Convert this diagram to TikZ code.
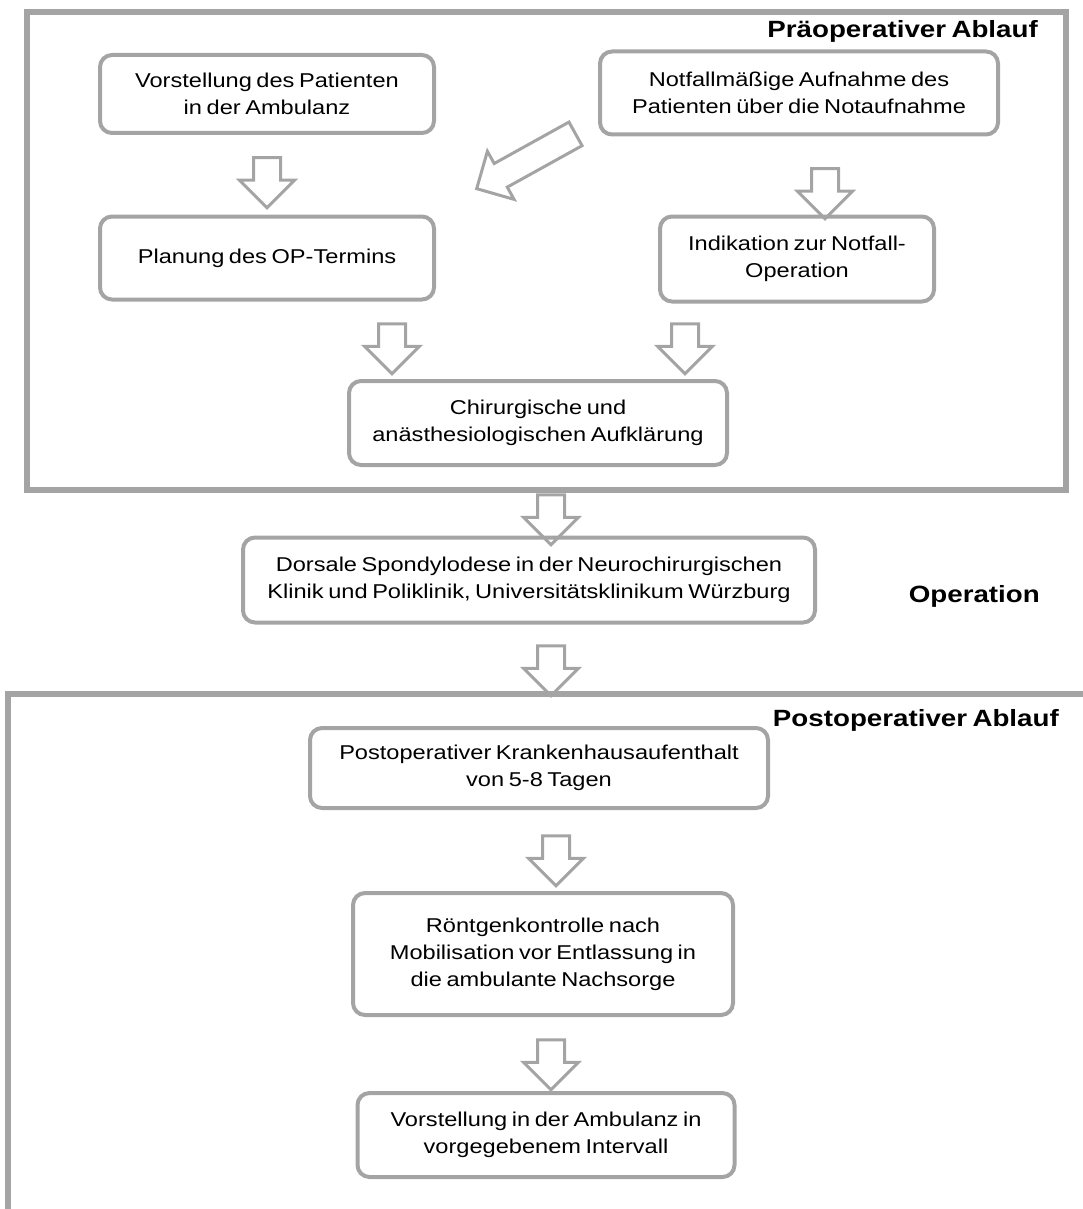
\documentclass[tikz,border=0pt]{standalone}
\usepackage{fontspec}
\setmainfont{Liberation Sans}[FakeStretch=1.18, WordSpace=0.7]
\usepackage{tikz}
\usetikzlibrary{
  shapes.arrows,
  positioning
}
\definecolor{linegray}{HTML}{A4A4A4}
\tikzset{
  x=1pt, y=-1pt,
  frame/.style={draw=linegray, line width=6.5pt},
  box/.style={draw=linegray, line width=4pt, rounded corners=12pt,
    align=center, inner sep=0pt, font=\fontsize{20}{27}\selectfont},
  heading/.style={font=\bfseries\fontsize{23.5}{27}\selectfont, inner sep=0pt},
  fat/.style={single arrow, draw=linegray, line width=3pt, inner xsep=0pt,
    inner ysep=12pt, minimum height=50pt, single arrow head extend=14pt},
  fatdown/.style={fat, rotate=-90}
}
\begin{document}
\begin{tikzpicture}
    \useasboundingbox (0,0) rectangle (1083,1209);

    % frames
    \draw[frame] (27,12) rectangle (1066,490);
    \draw[frame] (8,1215) -- (8,694) -- (1090,694);
    \node[heading, anchor=base east] (pre) at (1038,38) {Präoperativer Ablauf};
    \node[heading, anchor=base east] (op) at (1040,602) {Operation};
    \node[heading, anchor=base east] (post) at (1059,726) {Postoperativer Ablauf};

    % boxes
    \node[box, minimum width=334, minimum height=78] (amb) at (267,94)
      {Vorstellung des Patienten\\in der Ambulanz};
    \node[box, minimum width=398, minimum height=83] (notf) at (799,93)
      {Notfallmäßige Aufnahme des\\Patienten über die Notaufnahme};
    \node[box, minimum width=334, minimum height=83] (plan) at (267,258)
      {Planung des OP-Termins};
    \node[box, minimum width=274, minimum height=85] (ind) at (797,259)
      {Indikation zur Notfall-\\Operation};
    \node[box, minimum width=378, minimum height=84] (aufkl) at (538,423)
      {Chirurgische und\\anästhesiologischen Aufklärung};
    \node[box, minimum width=572, minimum height=85] (spondy) at (529,580)
      {Dorsale Spondylodese in der Neurochirurgischen\\Klinik und Poliklinik, Universitätsklinikum Würzburg};
    \node[box, minimum width=458, minimum height=80] (khaus) at (539,768)
      {Postoperativer Krankenhausaufenthalt\\von 5-8 Tagen};
    \node[box, minimum width=380, minimum height=122] (roe) at (543,954)
      {Röntgenkontrolle nach\\Mobilisation vor Entlassung in\\die ambulante Nachsorge};
    \node[box, minimum width=377, minimum height=84] (nach) at (546,1135)
      {Vorstellung in der Ambulanz in\\vorgegebenem Intervall};

    % arrows
    \node[fatdown] (a1) at (267,176) {};
    \node[fat, rotate=209, minimum height=113pt] (a2) at (532,158) {};
    \node[fatdown] (a3) at (825,187) {};
    \node[fatdown] (a4) at (392,342) {};
    \node[fatdown] (a5) at (685,342) {};
    \node[fatdown] (a6) at (551,513) {};
    \node[fatdown] (a7) at (551,664) {};
    \node[fatdown] (a8) at (556,854) {};
    \node[fatdown] (a9) at (551,1058) {};
\end{tikzpicture}
\end{document}
